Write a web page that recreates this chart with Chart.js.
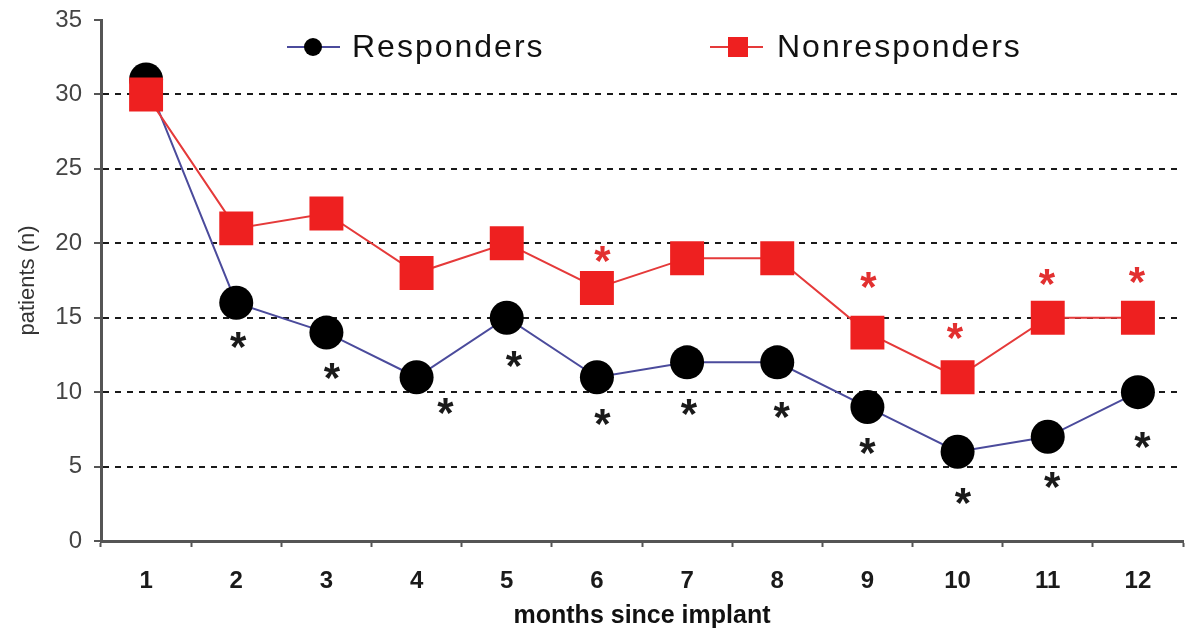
<!DOCTYPE html>
<html>
<head>
<meta charset="utf-8">
<script src="https://cdn.jsdelivr.net/npm/chart.js@4"></script>
<style>
  html, body { margin: 0; padding: 0; background: #ffffff; overflow: hidden; }
  canvas { display: block; }
</style>
</head>
<body>
<canvas id="c" width="1191" height="632" style="width:1191px;height:632px"></canvas>
<script>
// ---- data ----
const months = ['1','2','3','4','5','6','7','8','9','10','11','12'];
const responders    = [31, 16, 14, 11, 15, 11, 12, 12, 9, 6, 7, 10];
const nonresponders = [30, 21, 22, 18, 20, 17, 19, 19, 14, 11, 15, 15];
const yTicks = [0, 5, 10, 15, 20, 25, 30, 35];
// significance markers (month position, value position)
const respStarMonth = [2.02, 3.06, 4.32, 5.08, 6.06, 7.02, 8.05, 9.0, 10.06, 11.05, 12.05];
const respStarValue = [13.7, 11.6, 9.3, 12.4, 8.5, 9.2, 9.0, 6.6, 3.2, 4.3, 7.0];
const nonStarMonth  = [6.06, 9.01, 9.97, 10.99, 11.99];
const nonStarValue  = [19.5, 17.7, 14.3, 17.9, 18.1];

const RESP_LINE = '#4b4b9c';
const NON_LINE = '#e53a3a';
const NON_FILL = '#ee2020';
const AXIS = '#555555';

const noPad = function () { this.paddingLeft = 0; this.paddingRight = 0; this.paddingTop = 0; this.paddingBottom = 0; };

const starPlugin = {
  id: 'stars',
  afterDatasetsDraw(chart) {
    const ctx = chart.ctx, xs = chart.scales.x, ys = chart.scales.y;
    const size = 42;
    ctx.save();
    ctx.font = 'bold ' + size + 'px "Liberation Sans", Arial, sans-serif';
    ctx.textAlign = 'center';
    ctx.textBaseline = 'alphabetic';
    const draw = (mArr, vArr, color) => {
      ctx.fillStyle = color;
      for (let i = 0; i < mArr.length; i++) {
        const x = xs.getPixelForValue(mArr[i] - 1);
        const y = ys.getPixelForValue(vArr[i]);
        ctx.fillText('*', x, y + size * 0.57);
      }
    };
    draw(respStarMonth, respStarValue, '#1a1a1a');
    draw(nonStarMonth, nonStarValue, '#e23030');
    ctx.restore();
  }
};

const legendPlugin = {
  id: 'customLegend',
  afterDraw(chart) {
    const ctx = chart.ctx;
    const y = 47;
    ctx.save();
    ctx.font = '32px "Liberation Sans", Arial, sans-serif';
    try { ctx.letterSpacing = '2px'; } catch (e) {}
    ctx.textBaseline = 'middle';
    ctx.textAlign = 'left';
    // Responders
    ctx.strokeStyle = RESP_LINE; ctx.lineWidth = 2;
    ctx.beginPath(); ctx.moveTo(287, y); ctx.lineTo(340, y); ctx.stroke();
    ctx.fillStyle = '#000';
    ctx.beginPath(); ctx.arc(313, y, 9, 0, Math.PI * 2); ctx.fill();
    ctx.fillStyle = '#111';
    ctx.fillText('Responders', 352, y + 1);
    // Nonresponders
    ctx.strokeStyle = NON_LINE;
    ctx.beginPath(); ctx.moveTo(710, y); ctx.lineTo(763, y); ctx.stroke();
    ctx.fillStyle = NON_FILL;
    ctx.fillRect(738 - 10, y - 10, 20, 20);
    ctx.fillStyle = '#111';
    ctx.fillText('Nonresponders', 777, y + 1);
    ctx.restore();
  }
};

new Chart(document.getElementById('c'), {
  type: 'line',
  data: {
    labels: months,
    datasets: [
      {
        label: 'Responders',
        data: responders,
        borderColor: RESP_LINE,
        borderWidth: 2,
        backgroundColor: '#000000',
        pointBackgroundColor: '#000000',
        pointBorderColor: '#000000',
        pointBorderWidth: 0,
        pointStyle: 'circle',
        pointRadius: 17,
        tension: 0,
        clip: false,
        order: 1
      },
      {
        label: 'Nonresponders',
        data: nonresponders,
        borderColor: NON_LINE,
        borderWidth: 2,
        backgroundColor: NON_FILL,
        pointBackgroundColor: NON_FILL,
        pointBorderColor: NON_FILL,
        pointBorderWidth: 0,
        pointStyle: 'rect',
        pointRadius: 24,
        tension: 0,
        clip: false,
        order: 0
      }
    ]
  },
  options: {
    responsive: false,
    maintainAspectRatio: false,
    devicePixelRatio: 1,
    animation: false,
    layout: { autoPadding: false, padding: { left: 0, right: 8, top: 20, bottom: 0 } },
    plugins: {
      legend: { display: false },
      tooltip: { enabled: false }
    },
    scales: {
      x: {
        offset: true,
        grid: {
          offset: true,
          drawOnChartArea: false,
          drawTicks: true,
          tickLength: 6,
          tickColor: AXIS,
          tickWidth: 2
        },
        border: { display: true, color: AXIS, width: 3 },
        ticks: {
          color: '#1a1a1a',
          font: { family: '"Liberation Sans", Arial, sans-serif', size: 24, weight: 'bold' },
          padding: 20,
          maxRotation: 0
        },
        title: {
          display: true,
          text: 'months since implant',
          color: '#111',
          font: { family: '"Liberation Sans", Arial, sans-serif', size: 25, weight: 'bold' },
          padding: { top: 0, bottom: 1 }
        },
        beforeFit(scale) { scale._calculatePadding = noPad; },
        afterFit(scale) { scale.height = 91; }
      },
      y: {
        min: 0,
        max: 35,
        afterBuildTicks(scale) { scale.ticks = yTicks.map(v => ({ value: v })); },
        grid: {
          color: (c) => (c.tick && (c.tick.value === 0 || c.tick.value === 35)) ? 'rgba(0,0,0,0)' : '#1a1a1a',
          lineWidth: 2,
          drawTicks: true,
          tickLength: 7,
          tickColor: AXIS,
          tickWidth: 2,
          tickBorderDash: []
        },
        border: { display: true, color: AXIS, width: 3, dash: [6, 6] },
        ticks: {
          color: '#444',
          font: { family: '"Liberation Sans", Arial, sans-serif', size: 24 },
          padding: 12
        },
        title: {
          display: true,
          text: 'patients (n)',
          color: '#333',
          font: { family: '"Liberation Sans", Arial, sans-serif', size: 22 },
          padding: { top: 15, bottom: 0 }
        },
        beforeFit(scale) { scale._calculatePadding = noPad; },
        afterFit(scale) { scale.width = 101; }
      }
    }
  },
  plugins: [starPlugin, legendPlugin]
});
</script>
</body>
</html>
